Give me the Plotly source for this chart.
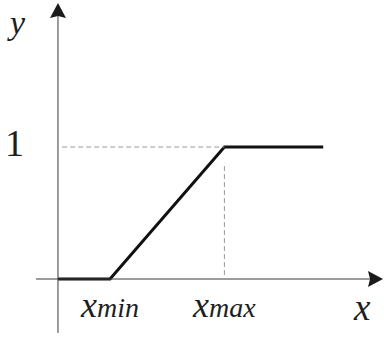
import plotly.graph_objects as go

# piecewise linear membership: 0 below xmin, 1 above xmax
x_min = 1.0
x_max = 3.2
x_pts = [0.0, x_min, x_max, 5.1]
y_pts = [0, 0, 1, 1]
tick_labels = ["1", "x", "y"]

W, H = 384, 337
x_range = [-1.115, 6.269]
y_range = [-0.4394, 2.1136]
px_x = W / (x_range[1] - x_range[0])   # pixels per x unit
px_y = H / (y_range[1] - y_range[0])   # pixels per y unit

SERIF = "Liberation Serif, Times New Roman, serif"
AXIS_COL = "#3a3a3a"
DASH_COL = "#9a9a9a"
TXT_COL = "#1e1e1e"

x_axis_end = [-0.423, 6.25]
y_axis_end = [-0.409, 2.09]

fig = go.Figure()

# the function itself
fig.add_trace(go.Scatter(
    x=x_pts, y=y_pts, mode="lines",
    line=dict(color="#111111", width=3),
    hoverinfo="skip"
))


def head_up(xc, tip, length=15, half=8, notch=2):
    b = tip - length / px_y
    n = b + notch / px_y
    hw = half / px_x
    return f"M {xc},{tip} L {xc + hw},{b} L {xc},{n} L {xc - hw},{b} Z"


def head_right(yc, tip, length=15, half=8, notch=2):
    b = tip - length / px_x
    n = b + notch / px_x
    hh = half / px_y
    return f"M {tip},{yc} L {b},{yc + hh} L {n},{yc} L {b},{yc - hh} Z"


shapes = [
    # axes
    dict(type="line", xref="x", yref="y", x0=x_axis_end[0], x1=x_axis_end[1] - 10 / px_x,
         y0=0, y1=0, line=dict(color=AXIS_COL, width=1)),
    dict(type="line", xref="x", yref="y", x0=0, x1=0,
         y0=y_axis_end[0], y1=y_axis_end[1] - 10 / px_y, line=dict(color=AXIS_COL, width=1)),
    dict(type="path", xref="x", yref="y", path=head_right(0, x_axis_end[1]),
         fillcolor="#1a1a1a", line=dict(width=0)),
    dict(type="path", xref="x", yref="y", path=head_up(0, y_axis_end[1]),
         fillcolor="#1a1a1a", line=dict(width=0)),
    # dashed guide at y = 1
    dict(type="line", xref="x", yref="y", x0=0.08, x1=x_max, y0=1, y1=1,
         line=dict(color=DASH_COL, width=1, dash="5px,3px")),
    # dashed guide at x = xmax
    dict(type="line", xref="x", yref="y", x0=x_max, x1=x_max, y0=0.03, y1=0.88,
         line=dict(color=DASH_COL, width=1, dash="5px,3px")),
]

annotations = [
    dict(x=14.5 / W, y=1 - 143 / H, xref="paper", yref="paper",
         text=tick_labels[0], showarrow=False, xanchor="center", yanchor="middle",
         font=dict(family=SERIF, size=38, color=TXT_COL)),
    dict(x=16 / W, y=1 - 22 / H, xref="paper", yref="paper",
         text="<i>" + tick_labels[2] + "</i>", showarrow=False,
         xanchor="center", yanchor="middle",
         font=dict(family=SERIF, size=34, color=TXT_COL)),
    dict(x=362 / W, y=1 - 307 / H, xref="paper", yref="paper",
         text="<i>" + tick_labels[1] + "</i>", showarrow=False,
         xanchor="center", yanchor="middle",
         font=dict(family=SERIF, size=37, color=TXT_COL)),
    dict(x=x_min, y=1 - 305 / H, xref="x", yref="paper",
         text="<i>x</i><span style='font-size:28px'><i>min</i></span>",
         showarrow=False, xanchor="center", yanchor="middle",
         font=dict(family=SERIF, size=36, color=TXT_COL)),
    dict(x=x_max, y=1 - 305 / H, xref="x", yref="paper",
         text="<i>x</i><span style='font-size:28px'><i>max</i></span>",
         showarrow=False, xanchor="center", yanchor="middle",
         font=dict(family=SERIF, size=36, color=TXT_COL)),
]

fig.update_layout(
    width=W, height=H,
    margin=dict(l=0, r=0, t=0, b=0),
    paper_bgcolor="white", plot_bgcolor="white",
    showlegend=False,
    xaxis=dict(range=x_range, visible=False, fixedrange=True),
    yaxis=dict(range=y_range, visible=False, fixedrange=True),
    shapes=shapes,
    annotations=annotations,
)

fig.write_html("out.html", config={"displayModeBar": False},
               post_script="document.body.style.margin='0';")
